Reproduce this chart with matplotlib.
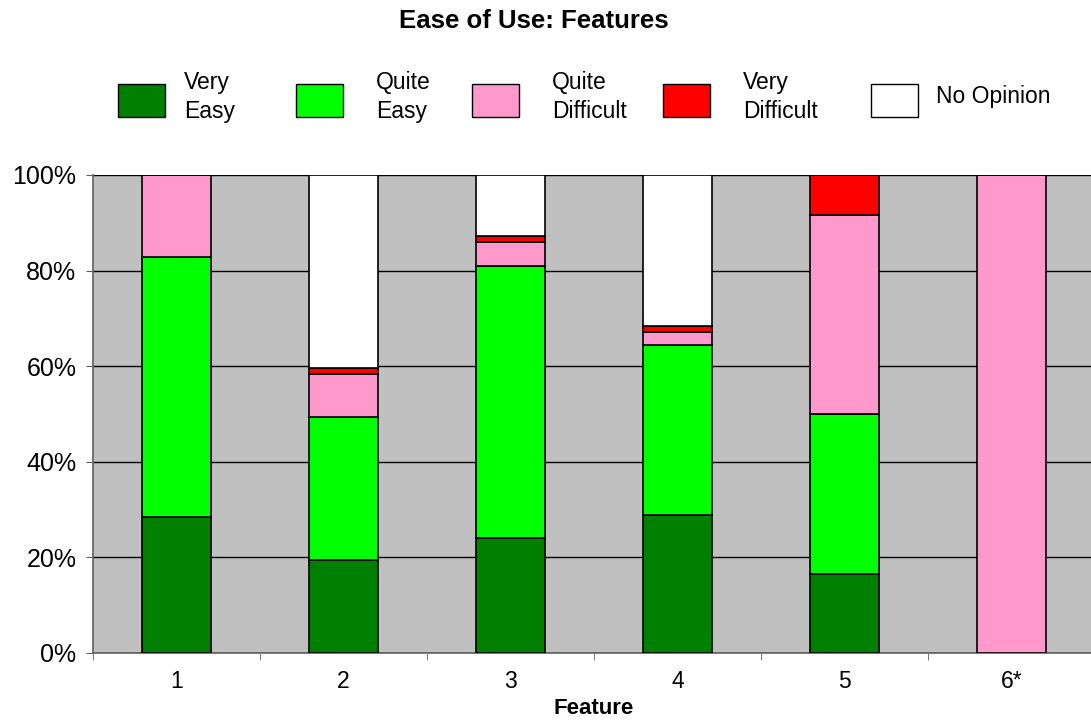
import matplotlib.pyplot as plt
import numpy as np
from matplotlib.patches import Rectangle

# survey results, percent of respondents per feature
features = ["1", "2", "3", "4", "5", "6*"]
very_easy = [28.5, 19.5, 24.1, 28.9, 16.5, 0]
quite_easy = [54.3, 29.9, 56.9, 35.5, 33.5, 0]
quite_difficult = [17.2, 9.0, 5.0, 2.8, 41.6, 100]
very_difficult = [0, 1.2, 1.2, 1.2, 8.4, 0]
no_opinion = [0, 40.4, 12.8, 31.6, 0, 0]

series = [very_easy, quite_easy, quite_difficult, very_difficult, no_opinion]
names = ["Very\nEasy", "Quite\nEasy", "Quite\nDifficult", "Very\nDifficult", "No Opinion"]
colors = ["#008000", "#00FF00", "#FF99CC", "#FF0000", "#FFFFFF"]

plt.rcParams['font.family'] = ['Liberation Sans', 'DejaVu Sans']

fig = plt.figure(figsize=(10.91, 7.21), dpi=100)
ax = fig.add_axes([93 / 1091, 1 - 653 / 721, 1002 / 1091, 478 / 721])
ax.set_facecolor("#C0C0C0")

x = np.arange(len(features))
width = 0.41
bottom = np.zeros(len(features))
for vals, c in zip(series, colors):
    vals = np.asarray(vals, dtype=float)
    ax.bar(x, vals, width, bottom=bottom, color=c, edgecolor="black",
           linewidth=1.2, zorder=3)
    bottom += vals

ax.set_xlim(-0.5, len(features) - 0.5)
ax.set_ylim(0, 100)
ax.set_yticks(np.arange(0, 101, 20))
ax.set_yticklabels([f"{v}%" for v in range(0, 101, 20)])
ax.yaxis.grid(True, color="black", linewidth=1, zorder=1)
ax.set_axisbelow(True)

ax.set_xticks(x)
ax.set_xticklabels(features)
ax.set_xticks(np.arange(-0.5, len(features)), minor=True)
ax.tick_params(axis="x", which="major", length=0, pad=12, labelsize=16.5)
ax.tick_params(axis="x", which="minor", length=5, color="#606060", direction="out")
ax.tick_params(axis="y", length=5, color="#606060", pad=7, labelsize=18)

for side in ["top", "right"]:
    ax.spines[side].set_visible(False)
for side in ["left", "bottom"]:
    ax.spines[side].set_color("#606060")
    ax.spines[side].set_linewidth(1.2)

ax.set_xlabel("Feature", fontsize=16, fontweight="bold", labelpad=4)
fig.text(534 / 1091, 1 - 21 / 721, "Ease of Use: Features", ha="center", va="center",
         fontsize=18.5, fontweight="bold")

# legend row across the top
box_left = [118, 296, 472, 663, 871]
text_left = [184, 376, 552, 743, 936]
W, H = 1091, 721
for bx, tx, name, c in zip(box_left, text_left, names, colors):
    fig.patches.append(Rectangle((bx / W, 1 - 117 / H), 47 / W, 33 / H,
                                 transform=fig.transFigure, facecolor=c,
                                 edgecolor="black", linewidth=1))
    fig.text(tx / W, 1 - 97 / H, name, ha="left", va="center", fontsize=16.5,
             linespacing=1.3)

fig.savefig("out.png", dpi=100)
